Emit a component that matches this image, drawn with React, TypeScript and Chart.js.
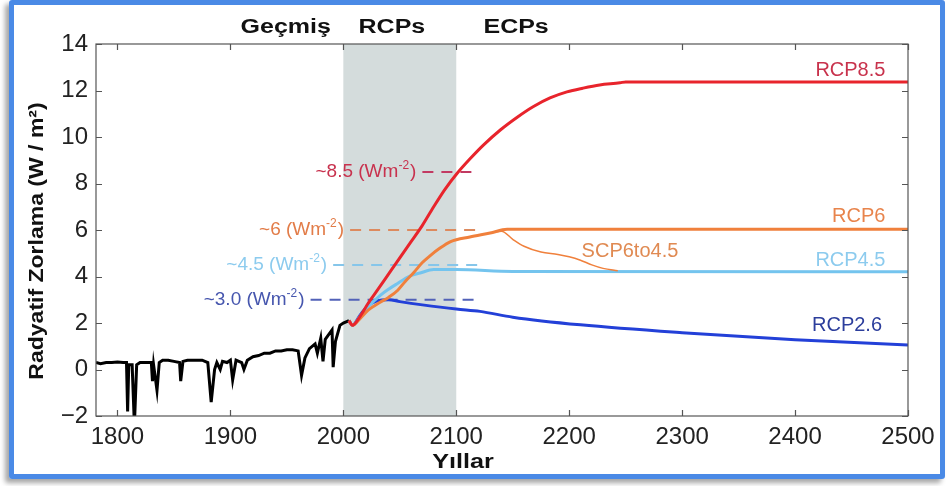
import { useEffect, useRef } from "react";
import { Chart, registerables } from "chart.js";

Chart.register(...registerables);

// ---------- axes ----------
const X_MIN = 1781;
const X_MAX = 2500;
const X_TICKS = [1800, 1900, 2000, 2100, 2200, 2300, 2400, 2500];
const Y_MIN = -2;
const Y_MAX = 14;
const Y_TICKS = [-2, 0, 2, 4, 6, 8, 10, 12, 14];

const X_TITLE = "Yıllar";
const Y_TITLE = "Radyatif Zorlama (W / m²)";

// shaded RCP period
const BAND_START = 2000;
const BAND_END = 2100;

// period headings and the years they are centred on
const PERIOD_LABELS = ["Geçmiş", "RCPs", "ECPs"];
const PERIOD_YEARS = [1949, 2043, 2153];

// ---------- series (year, W/m²) ----------
const historical: [number, number][] = [
  [1781, 0.3], [1785, 0.25], [1790, 0.3], [1795, 0.3], [1800, 0.32], [1805, 0.3],
  [1808, 0.3], [1809, -1.8], [1810, 0.2], [1813, 0.2], [1815, -2.4], [1817, 0.2],
  [1820, 0.3], [1825, 0.3], [1830, 0.3], [1831, -0.5], [1832, 0.2], [1835, -0.9],
  [1837, 0.3], [1840, 0.4], [1845, 0.4], [1850, 0.35], [1855, 0.3], [1856, -0.5],
  [1858, 0.35], [1862, 0.4], [1868, 0.4], [1875, 0.4], [1880, 0.3], [1883, -1.4],
  [1886, 0.0], [1888, 0.3], [1891, 0.0], [1893, 0.35], [1897, 0.3], [1900, 0.4],
  [1902, -0.45], [1905, 0.4], [1910, 0.3], [1912, 0.0], [1915, 0.4], [1920, 0.55],
  [1925, 0.6], [1930, 0.7], [1935, 0.7], [1940, 0.8], [1945, 0.8], [1950, 0.85],
  [1955, 0.85], [1960, 0.8], [1963, -0.25], [1966, 0.5], [1970, 0.9], [1975, 1.1],
  [1977, 0.7], [1980, 1.35], [1982, 0.35], [1984, 1.3], [1987, 1.5], [1990, 1.7],
  [1991, 0.1], [1993, 1.2], [1997, 1.9], [2000, 2.0], [2005, 2.1],
];

const rcp85: [number, number][] = [
  [2005, 2.1], [2008, 1.9], [2015, 2.3], [2022, 2.85], [2030, 3.4], [2040, 4.1],
  [2050, 4.8], [2060, 5.5], [2070, 6.2], [2080, 7.0], [2090, 7.75], [2101, 8.45],
  [2112, 9.05], [2124, 9.65], [2139, 10.3], [2154, 10.85], [2168, 11.3], [2183, 11.68],
  [2198, 11.94], [2212, 12.1], [2227, 12.24], [2245, 12.33], [2250, 12.37], [2500, 12.37],
];

const rcp6: [number, number][] = [
  [2005, 2.1], [2008, 1.9], [2015, 2.2], [2022, 2.55], [2033, 2.9], [2040, 3.1],
  [2048, 3.4], [2055, 3.8], [2062, 4.15], [2070, 4.6], [2077, 4.9], [2085, 5.2],
  [2095, 5.5], [2112, 5.7], [2130, 5.87], [2145, 6.03], [2500, 6.03],
];

const scp6to45: [number, number][] = [
  [2133, 5.9], [2140, 5.95], [2150, 5.6], [2160, 5.3], [2175, 5.05], [2190, 4.95],
  [2200, 4.85], [2210, 4.7], [2220, 4.5], [2230, 4.35], [2243, 4.25],
];

const rcp45: [number, number][] = [
  [2005, 2.1], [2008, 1.9], [2015, 2.3], [2022, 2.7], [2033, 3.2], [2040, 3.45],
  [2048, 3.7], [2058, 4.0], [2068, 4.15], [2080, 4.3], [2100, 4.3], [2150, 4.22],
  [2500, 4.2],
];

const rcp26: [number, number][] = [
  [2005, 2.1], [2008, 1.9], [2015, 2.35], [2022, 2.75], [2030, 2.95], [2040, 3.0],
  [2050, 2.92], [2070, 2.78], [2100, 2.6], [2121, 2.5], [2150, 2.25], [2210, 1.92],
  [2300, 1.58], [2400, 1.28], [2500, 1.05],
];

// reference levels (dashed) and their labels
const REF_LEVELS = [8.5, 6, 4.5, 3.0];
const REF_LABELS = ["~8.5", "~6", "~4.5", "~3.0"];
const REF_START_YEARS = [2070, 2006, 1991, 1971];
const REF_END_YEAR = 2120;
const REF_UNIT = "(Wm";
const REF_UNIT_SUP = "-2";
const REF_UNIT_CLOSE = ")";

// series end labels: name, anchor year, anchor value
const SERIES_NAMES = ["RCP8.5", "RCP6", "SCP6to4.5", "RCP4.5", "RCP2.6"];
const SERIES_LABEL_YEARS = [2480, 2480, 2211, 2480, 2477];
const SERIES_LABEL_VALUES = [12.88, 6.56, 5.08, 4.71, 1.91];

// ---------- styles ----------
const FONT = "'Liberation Sans', Arial, Helvetica, sans-serif";
const C_RED = "#e8242c";
const C_ORANGE = "#f0803c";
const C_LBLUE = "#74c4ee";
const C_DBLUE = "#2340d8";
const REF_LINE_COLORS = ["#c23a62", "#dd8a5e", "#86c6ea", "#5262b8"];
const REF_TEXT_COLORS = ["#c8324e", "#e27c48", "#8ccbee", "#4656ae"];
const SERIES_TEXT_COLORS = ["#c8324c", "#e8844c", "#e08a52", "#8ccbee", "#2c3e9c"];
const SERIES_TEXT_ALIGN: CanvasTextAlign[] = ["right", "right", "left", "right", "right"];

function drawText(
  ctx: CanvasRenderingContext2D,
  text: string,
  x: number,
  y: number,
  font: string,
  color: string,
  align: CanvasTextAlign,
  sx = 1,
  rot = 0
) {
  ctx.save();
  ctx.font = font;
  ctx.fillStyle = color;
  ctx.textBaseline = "middle";
  ctx.textAlign = align;
  ctx.translate(x, y);
  if (rot) ctx.rotate(rot);
  ctx.scale(sx, 1);
  ctx.fillText(text, 0, 0);
  ctx.restore();
}

const decorPlugin = {
  id: "decor",
  beforeDatasetsDraw(chart: any) {
    const { ctx, chartArea, scales } = chart;
    const x0 = scales.x.getPixelForValue(BAND_START);
    const x1 = scales.x.getPixelForValue(BAND_END);
    ctx.save();
    ctx.fillStyle = "#d4dcdc";
    ctx.fillRect(x0, chartArea.top, x1 - x0, chartArea.bottom - chartArea.top);
    ctx.restore();
  },
  afterDatasetsDraw(chart: any) {
    const { ctx, chartArea, scales } = chart;
    const { left, right, top, bottom } = chartArea;
    const xs = scales.x;
    const ys = scales.y;

    // frame + inward ticks
    ctx.save();
    ctx.strokeStyle = "#555";
    ctx.lineWidth = 1.2;
    ctx.strokeRect(left, top, right - left, bottom - top);
    ctx.beginPath();
    const TL = 6;
    X_TICKS.forEach((v) => {
      const px = Math.round(xs.getPixelForValue(v)) + 0.5;
      ctx.moveTo(px, bottom);
      ctx.lineTo(px, bottom - TL);
      ctx.moveTo(px, top);
      ctx.lineTo(px, top + TL);
    });
    Y_TICKS.forEach((v) => {
      const py = Math.round(ys.getPixelForValue(v)) + 0.5;
      ctx.moveTo(left, py);
      ctx.lineTo(left + TL, py);
      ctx.moveTo(right, py);
      ctx.lineTo(right - TL, py);
    });
    ctx.stroke();
    ctx.restore();

    // reference labels with superscript unit
    REF_LEVELS.forEach((lvl, i) => {
      const xr = xs.getPixelForValue(REF_START_YEARS[i]) - 6;
      const y = ys.getPixelForValue(lvl);
      const big = `19px ${FONT}`;
      const small = `12px ${FONT}`;
      ctx.save();
      ctx.font = big;
      const mainTxt = `${REF_LABELS[i]} ${REF_UNIT}`;
      const wMain = ctx.measureText(mainTxt).width;
      const wClose = ctx.measureText(REF_UNIT_CLOSE).width;
      ctx.font = small;
      const wSup = ctx.measureText(REF_UNIT_SUP).width;
      ctx.restore();
      const x0 = xr - (wMain + wSup + wClose + 1);
      const col = REF_TEXT_COLORS[i];
      drawText(ctx, mainTxt, x0, y, big, col, "left");
      drawText(ctx, REF_UNIT_SUP, x0 + wMain, y - 6, small, col, "left");
      drawText(ctx, REF_UNIT_CLOSE, x0 + wMain + wSup + 1, y, big, col, "left");
    });

    // series names
    SERIES_NAMES.forEach((name, i) => {
      drawText(
        ctx,
        name,
        xs.getPixelForValue(SERIES_LABEL_YEARS[i]),
        ys.getPixelForValue(SERIES_LABEL_VALUES[i]),
        `20px ${FONT}`,
        SERIES_TEXT_COLORS[i],
        SERIES_TEXT_ALIGN[i]
      );
    });

    // period headings
    PERIOD_LABELS.forEach((t, i) => {
      drawText(ctx, t, xs.getPixelForValue(PERIOD_YEARS[i]), 27, `bold 20px ${FONT}`, "#111", "center", 1.25);
    });

    // axis titles
    drawText(ctx, X_TITLE, 463, 462, `bold 21px ${FONT}`, "#111", "center", 1.2);
    drawText(ctx, Y_TITLE, 37, 241, `bold 20px ${FONT}`, "#111", "center", 1.15, -Math.PI / 2);
  },
};

function line(data: [number, number][], color: string, width: number, smooth = true) {
  return {
    data: data.map(([x, y]) => ({ x, y })),
    borderColor: color,
    borderWidth: width,
    pointRadius: 0,
    showLine: true,
    fill: false,
    cubicInterpolationMode: smooth ? ("monotone" as const) : ("default" as const),
    tension: 0,
  };
}

function refLine(i: number) {
  return {
    data: [
      { x: REF_START_YEARS[i], y: REF_LEVELS[i] },
      { x: REF_END_YEAR, y: REF_LEVELS[i] },
    ],
    borderColor: REF_LINE_COLORS[i],
    borderWidth: 2,
    borderDash: [11, 8],
    pointRadius: 0,
    showLine: true,
    fill: false,
  };
}

export default function App() {
  const ref = useRef<HTMLCanvasElement>(null);

  useEffect(() => {
    const chart = new Chart(ref.current as HTMLCanvasElement, {
      type: "scatter",
      data: {
        datasets: [
          line(rcp85, C_RED, 3),
          line(rcp6, C_ORANGE, 3),
          line(scp6to45, C_ORANGE, 1.5),
          line(rcp45, C_LBLUE, 3),
          line(rcp26, C_DBLUE, 3),
          line(historical, "#000", 3, false),
          refLine(0),
          refLine(1),
          refLine(2),
          refLine(3),
        ] as any,
      },
      options: {
        responsive: false,
        animation: false,
        layout: { padding: { left: 0, top: 44, right: 39, bottom: 0 } },
        plugins: { legend: { display: false }, tooltip: { enabled: false } },
        scales: {
          x: {
            type: "linear",
            min: X_MIN,
            max: X_MAX,
            afterBuildTicks: (s: any) => {
              s.ticks = X_TICKS.map((v) => ({ value: v }));
            },
            afterFit: (s: any) => {
              s.height = 70;
            },
            grid: { display: false, drawTicks: false },
            border: { display: false },
            ticks: {
              font: { family: FONT, size: 24 },
              color: "#222",
              padding: 7,
              maxRotation: 0,
              autoSkip: false,
              callback: (v: any) => String(v),
            },
          },
          y: {
            type: "linear",
            min: Y_MIN,
            max: Y_MAX,
            afterBuildTicks: (s: any) => {
              s.ticks = Y_TICKS.map((v) => ({ value: v }));
            },
            afterFit: (s: any) => {
              s.width = 96;
            },
            grid: { display: false, drawTicks: false },
            border: { display: false },
            ticks: {
              font: { family: FONT, size: 24 },
              color: "#222",
              padding: 8,
              callback: (v: any) => (v < 0 ? "\u2212" + Math.abs(v) : String(v)),
            },
          },
        },
      },
      plugins: [decorPlugin],
    });
    return () => chart.destroy();
  }, []);

  return (
    <div
      style={{
        position: "absolute",
        left: 0,
        top: 0,
        width: 947,
        height: 486,
        background: "#fff",
        overflow: "hidden",
      }}
    >
      <div
        style={{
          position: "absolute",
          left: 9,
          top: 0,
          width: 936,
          height: 479,
          boxSizing: "border-box",
          border: "5px solid #4a8ae6",
          borderRadius: 3,
          boxShadow: "-4px 4px 5px rgba(0,0,0,0.35)",
        }}
      />
      <canvas
        ref={ref}
        width={947}
        height={486}
        style={{ position: "absolute", left: 0, top: 0 }}
      />
    </div>
  );
}
